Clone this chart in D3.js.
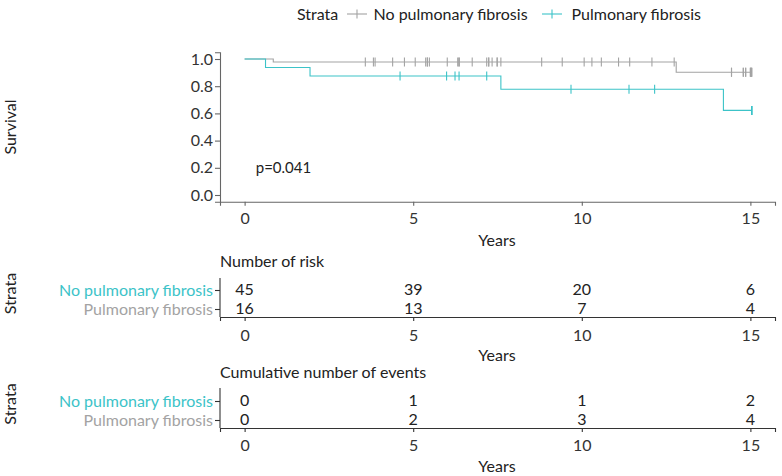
<!DOCTYPE html>
<html><head><meta charset="utf-8">
<script src="https://cdn.jsdelivr.net/npm/d3@7"></script>
<style>
body{margin:0;background:#fff;}
svg text{font-family:Lato,"Noto Sans",sans-serif;}
</style></head>
<body><svg id="c" width="782" height="476"></svg>
<script>
// ---------- data ----------
const strata = ["No pulmonary fibrosis", "Pulmonary fibrosis"];
const colors = ["#a3a3a3", "#3cc3c8"];
const nStart = [45, 16];
const eventsNoPF = [0.85, 12.80];
const censorNoPF = [3.58,3.82,3.87,4.39,4.74,5.06,5.37,5.42,5.42,5.48,6.01,6.32,6.35,6.37,6.75,7.18,7.24,7.24,7.34,7.49,7.49,7.60,8.81,9.42,10.07,10.30,10.58,11.09,11.42,12.08,12.74,14.44,14.44,14.79,14.79,14.86,14.86,15.0,15.0,15.02,15.02,15.04,15.04];
const eventsPF = [0.62, 1.94, 7.60, 14.20];
const censorPF = [4.61,5.99,6.24,6.36,7.18,9.68,11.40,12.16,15.04,15.04,15.04,15.04];
const xTicks = [0, 5, 10, 15];
const yTicks = [0, 0.2, 0.4, 0.6, 0.8, 1.0];
const riskNoPF = [45, 39, 20, 6];
const riskPF = [16, 13, 7, 4];
const cumEvNoPF = [0, 1, 1, 2];
const cumEvPF = [0, 2, 3, 4];
const pValue = "p=0.041";

// ---------- KM ----------
function km(n, events, censored) {
  const ev = events.slice().sort((a,b)=>a-b);
  let s = 1, pts = [[0,1]], steps = [[0,1]];
  ev.forEach(t => {
    const atRisk = n - events.filter(e => e < t).length - censored.filter(c => c < t).length;
    s = s * (atRisk - 1) / atRisk;
    pts.push([t, s]); steps.push([t, s]);
  });
  const tmax = d3.max(censored.concat(events));
  pts.push([tmax, s]);
  const survAt = t => { let v = 1; steps.forEach(p => { if (p[0] <= t) v = p[1]; }); return v; };
  return {pts, marks: censored.map(c => [c, survAt(c)])};
}
const curves = [km(nStart[0], eventsNoPF, censorNoPF), km(nStart[1], eventsPF, censorPF)];

// ---------- layout ----------
const svg = d3.select("#c");
const x = d3.scaleLinear().domain([-0.73, 15.73]).range([220, 775]);
const y = d3.scaleLinear().domain([-0.05, 1.05]).range([201.8, 52.2]);
const ink = "#222";

// legend
const lg = svg.append("g").attr("font-size", 16).attr("fill", ink);
lg.append("text").attr("x", 297).attr("y", 14).attr("dy", "0.35em").text("Strata");
const legX = [[347, 373.5], [542, 571.5]];
strata.forEach((s, i) => {
  const [kx, tx] = legX[i];
  lg.append("line").attr("x1", kx).attr("x2", kx + 20).attr("y1", 14).attr("y2", 14).attr("stroke", colors[i]).attr("stroke-width", 1.1);
  lg.append("line").attr("x1", kx + 10).attr("x2", kx + 10).attr("y1", 9.5).attr("y2", 18.5).attr("stroke", colors[i]).attr("stroke-width", 1.1);
  lg.append("text").attr("x", tx).attr("y", 14).attr("dy", "0.35em").text(s);
});

// main axes
const gy = svg.append("g").attr("transform", "translate(220,0)")
  .call(d3.axisLeft(y).tickValues(yTicks).tickFormat(d3.format(".1f")).tickSizeOuter(0).tickSize(5));
const gx = svg.append("g").attr("transform", "translate(0,201.8)")
  .call(d3.axisBottom(x).tickValues(xTicks).tickSizeOuter(0).tickSize(4));
[gy, gx].forEach(g => {
  g.select(".domain").attr("stroke", "#666").attr("stroke-width", 1.1);
  g.selectAll(".tick line").attr("stroke", "#666").attr("stroke-width", 1.1);
  g.selectAll(".tick text").attr("fill", "#333").attr("font-size", 16).attr("font-family", "Lato");
});
gy.selectAll(".tick text").attr("x", -7);
gx.selectAll(".tick text").attr("y", 11);
svg.append("text").attr("transform", "translate(16,127) rotate(-90)").attr("text-anchor", "middle")
  .attr("font-size", 16).attr("fill", ink).text("Survival");
svg.append("text").attr("x", 497).attr("y", 240).attr("dy", "0.35em").attr("text-anchor", "middle")
  .attr("font-size", 16).attr("fill", ink).text("Years");
svg.append("text").attr("x", x(0.33)).attr("y", y(0.2)).attr("dy", "0.35em")
  .attr("font-size", 15).attr("fill", ink).text(pValue);

// curves
const line = d3.line().x(d => x(d[0])).y(d => y(d[1])).curve(d3.curveStepAfter);
[0, 1].forEach(i => {
  svg.append("path").datum(curves[i].pts).attr("d", line).attr("fill", "none")
    .attr("stroke", colors[i]).attr("stroke-width", 1.1);
  const g = svg.append("g").attr("stroke", colors[i]).attr("stroke-width", 1.1);
  g.selectAll("line.v").data(curves[i].marks).join("line")
    .attr("x1", d => x(d[0])).attr("x2", d => x(d[0]))
    .attr("y1", d => y(d[1]) - 4.5).attr("y2", d => y(d[1]) + 4.5);
});

// tables
function table(top, bottom, rowTop, rowBottom, title, vals, titleY, tickY, yearsY) {
  const yr = d3.scalePoint().domain(strata).range([rowTop, rowBottom]);
  svg.append("text").attr("x", 220).attr("y", titleY).attr("dy", "0.35em")
    .attr("font-size", 16).attr("fill", ink).text(title);
  const ga = svg.append("g").attr("transform", "translate(220,0)")
    .call(d3.axisLeft(yr).tickSizeOuter(0).tickSize(5));
  ga.select(".domain").remove();
  ga.append("line").attr("x1", 0).attr("x2", 0).attr("y1", top).attr("y2", bottom)
    .attr("stroke", "#333").attr("stroke-width", 1.1);
  ga.selectAll(".tick text").attr("font-size", 16).attr("font-family", "Lato")
    .attr("fill", (d, i) => i === 0 ? colors[1] : colors[0]).attr("x", -7);
  const gb = svg.append("g").attr("transform", `translate(0,${bottom})`)
    .call(d3.axisBottom(x).tickValues(xTicks).tickSizeOuter(0).tickSize(4));
  gb.selectAll(".tick text").attr("font-size", 16).attr("font-family", "Lato").attr("fill", "#333").attr("y", tickY);
  [ga, gb].forEach(g => {
    g.select(".domain").attr("stroke", "#333").attr("stroke-width", 1.1);
    g.selectAll(".tick line").attr("stroke", "#333").attr("stroke-width", 1.1);
  });
  strata.forEach((s, i) => {
    svg.append("g").selectAll("text").data(vals[i]).join("text")
      .attr("x", (d, j) => x(xTicks[j])).attr("y", yr(s)).attr("dy", "0.3em")
      .attr("text-anchor", "middle").attr("font-size", 16).attr("fill", "#222").text(d => d);
  });
  svg.append("text").attr("transform", `translate(16,${(top + bottom) / 2 - 4}) rotate(-90)`).attr("text-anchor", "middle")
    .attr("font-size", 16).attr("fill", ink).text("Strata");
  svg.append("text").attr("x", 497).attr("y", yearsY).attr("dy", "0.35em").attr("text-anchor", "middle")
    .attr("font-size", 16).attr("fill", ink).text("Years");
}
table(278, 317, 290, 309, "Number of risk", [riskNoPF, riskPF], 261, 13, 355);
table(388, 428, 401, 420, "Cumulative number of events", [cumEvNoPF, cumEvPF], 372, 12, 466);
</script></body></html>
